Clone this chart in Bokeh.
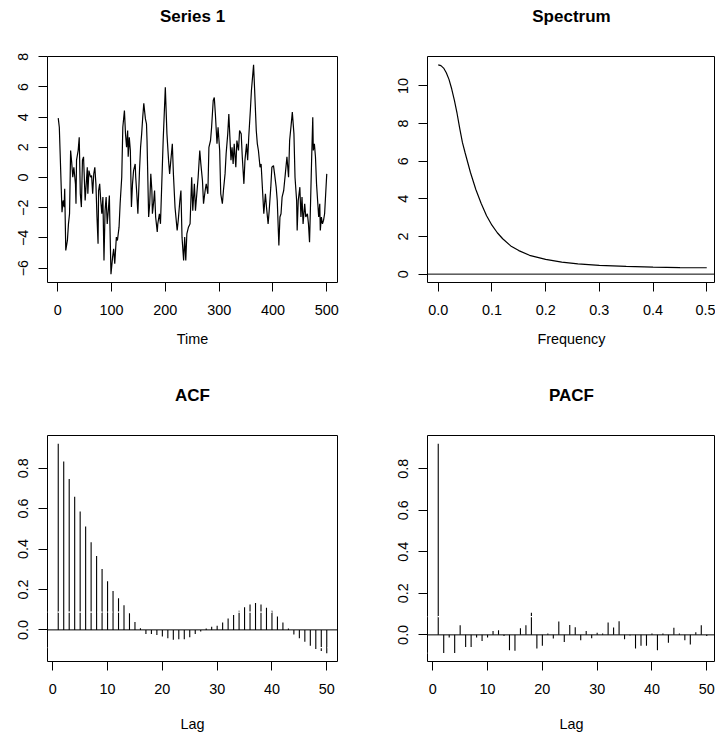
from bokeh.plotting import figure
from bokeh.layouts import column, row
from bokeh.models import FixedTicker, Span, LinearAxis
from bokeh.embed import file_html
from bokeh.resources import INLINE

# ---------------- data ----------------
ts_time = [1, 3, 8, 10, 12, 13, 15, 18, 20, 22, 24, 26, 28, 30, 33, 34, 35, 38, 40, 42,
           44, 46, 48, 51, 53, 55, 56, 58, 61, 63, 65, 67, 69, 71, 73, 75, 76, 78, 80, 82,
           84, 86, 88, 90, 92, 94, 96, 97, 99, 102, 104, 106, 109, 111, 114, 116, 119, 121, 124, 126,
           128, 130, 131, 133, 135, 137, 139, 141, 144, 145, 147, 149, 152, 154, 156, 158, 160, 163, 165, 166,
           169, 171, 173, 175, 176, 178, 180, 182, 185, 186, 189, 191, 196, 200, 203, 206, 208, 213, 215, 218,
           222, 224, 227, 229, 231, 234, 236, 238, 240, 243, 246, 249, 251, 254, 256, 259, 261, 264, 266, 269,
           271, 274, 276, 279, 281, 284, 286, 289, 291, 293, 296, 298, 301, 303, 306, 308, 311, 313, 316, 318,
           320, 322, 324, 326, 328, 331, 333, 336, 338, 341, 343, 346, 348, 351, 353, 355, 358, 360, 364, 366,
           369, 371, 373, 376, 378, 381, 383, 386, 388, 391, 393, 396, 398, 401, 403, 406, 408, 411, 413, 415,
           417, 420, 423, 426, 429, 431, 434, 436, 439, 441, 444, 445, 447, 450, 452, 454, 456, 459, 461, 464,
           466, 468, 470, 472, 474, 475, 477, 479, 481, 483, 485, 487, 488, 490, 492, 494, 496, 498, 500]
ts_value = [3.93, 3.33, -2.3, -1.52, -1.96, -0.75, -4.83, -4.17, -3.07, -2.4, 1.79, 1.0, 0.02, 0.68, -0.42, -1.74, 1.15, 1.79, 2.67, -1.08,
            -1.96, 1.15, 1.37, -1.52, -0.42, 0.68, -1.08, 0.46, 0.02, 0.13, -1.08, 0.24, 0.68, -0.42, -2.62, -4.39, -0.86, -0.42, -1.52, -2.4,
            -1.3, -5.5, -2.2, -1.3, -3.07, -2.2, -1.2, -3.07, -6.4, -5.27, -4.72, -5.71, -3.95, -4.17, -3.29, -1.74, 0.02, 3.33, 4.44, 2.89,
            2.0, 3.11, 1.37, 2.67, 1.79, -1.96, -0.42, 0.46, 0.9, 0.02, -1.08, -2.4, 0.46, 2.0, 2.89, 3.99, 4.91, 3.88, 3.55, 2.45,
            -2.62, -1.74, 0.24, -0.86, -2.4, -1.74, -0.86, -2.62, -3.6, -3.07, -2.4, -3.07, 2.45, 5.98, 2.89, 1.15, 0.24, 2.23, 0.24, -1.96,
            -3.51, -2.84, -1.52, -0.86, -3.95, -5.5, -3.95, -5.5, -3.73, -3.29, -3.07, 0.02, -2.2, -0.42, -2.2, -0.86, 0.02, 1.79, 0.9, -0.2,
            -1.74, -0.86, -0.42, -1.08, 2.0, 2.45, 3.33, 5.1, 5.3, 4.2, 2.23, 3.33, 1.79, -1.08, -1.74, -0.86, 0.24, 1.57, 2.89, 4.2,
            2.67, 1.15, 2.0, 0.9, 2.23, 0.68, 2.45, 1.79, 3.11, 2.89, 1.37, -0.42, 1.15, 2.23, 1.15, 2.67, 4.44, 5.76, 7.46, 5.76,
            3.11, 2.23, 1.79, 0.68, 0.9, -1.08, -2.4, -1.08, -1.96, -3.07, -2.2, -0.64, 0.68, 0.79, 0.24, -0.64, -1.52, -4.5, -2.62, -2.4,
            -1.3, -0.86, 0.24, 1.37, 0.02, 2.45, 3.55, 4.33, 2.89, 0.02, -1.52, -3.51, -1.52, -0.64, -2.62, -1.3, -3.07, -1.74, -2.62, -2.4,
            -3.07, -4.28, -1.52, 1.37, 3.99, 1.79, 2.23, 1.37, -0.42, -1.52, -2.62, -1.74, -3.51, -2.62, -3.07, -2.84, -2.4, -1.08, 0.24]

spec_freq = [0.0, 0.005, 0.01, 0.015, 0.02, 0.025, 0.03, 0.035, 0.04, 0.045, 0.05, 0.06, 0.07, 0.08, 0.09,
             0.1, 0.11, 0.12, 0.135, 0.15, 0.17, 0.2, 0.23, 0.26, 0.3, 0.35, 0.4, 0.45, 0.5]
spec_value = [11.12, 11.08, 10.95, 10.7, 10.35, 9.85, 9.25, 8.55, 7.75, 7.0, 6.45, 5.4, 4.5, 3.75, 3.1,
              2.6, 2.2, 1.88, 1.5, 1.25, 1.0, 0.78, 0.64, 0.55, 0.47, 0.41, 0.37, 0.35, 0.34]

lags = list(range(1, 51))
acf_value = [0.92, 0.833, 0.746, 0.659, 0.585, 0.511, 0.434, 0.365, 0.301, 0.241,
             0.192, 0.156, 0.122, 0.082, 0.039, 0.008, -0.02, -0.02, -0.025, -0.033,
             -0.041, -0.049, -0.046, -0.046, -0.036, -0.02, -0.008, 0.007, 0.015, 0.021,
             0.036, 0.056, 0.074, 0.095, 0.112, 0.126, 0.133, 0.125, 0.11, 0.094,
             0.066, 0.036, 0.007, -0.023, -0.041, -0.059, -0.079, -0.095, -0.105, -0.115]
pacf_value = [0.92, -0.087, -0.013, -0.087, 0.046, -0.058, -0.058, -0.013, -0.029, -0.013,
              0.019, 0.022, -0.006, -0.074, -0.077, 0.032, 0.046, 0.106, -0.066, -0.053,
              0.006, -0.018, 0.064, -0.034, 0.048, 0.037, -0.026, 0.018, -0.016, 0.01,
              0.006, 0.059, 0.035, 0.066, -0.021, -0.003, -0.066, -0.053, -0.053, 0.006,
              -0.074, 0.006, -0.038, 0.034, 0.006, -0.026, -0.046, 0.013, 0.046, -0.006]
ci_bound = 0.088

ts_xticks = [0, 100, 200, 300, 400, 500]
ts_yticks = [-6, -4, -2, 0, 2, 4, 6, 8]
spec_xticks = [0.0, 0.1, 0.2, 0.3, 0.4, 0.5]
spec_xlabels = ["0.0", "0.1", "0.2", "0.3", "0.4", "0.5"]
spec_yticks = [0, 2, 4, 6, 8, 10]
lag_ticks = [0, 10, 20, 30, 40, 50]
cor_yticks = [0.0, 0.2, 0.4, 0.6, 0.8]
cor_ylabels = ["0.0", "0.2", "0.4", "0.6", "0.8"]

# ---------------- layout constants ----------------
FONT = "Liberation Sans"
TICK_FS = "14.4px"
FW, FH = 290, 226
LEFT_L, LEFT_R = 47, 50
RIGHT_L = 40
RIGHT_FW = 288
TOP_T, TOP_B = 56, 75
BOT_T, BOT_B = 78, 75


def r_range(lo, hi):
    d = (hi - lo) * 0.04
    return lo - d, hi + d


def make_fig(xr_full, yr, right_col, top_row, title, xlab, xticks, yticks, xlabels=None, ylabels=None):
    x0, x1 = xr_full
    xs = (x1 - x0) / FW
    fw = RIGHT_FW if right_col else FW
    xr = (x0, x0 + fw * xs)
    ml = RIGHT_L if right_col else LEFT_L
    mr = 0 if right_col else LEFT_R
    mt = TOP_T if top_row else BOT_T
    mb = TOP_B if top_row else BOT_B
    p = figure(width=ml + fw + mr, height=mt + FH + mb, x_range=xr, y_range=yr,
               output_backend="svg", toolbar_location=None,
               x_axis_location=None, y_axis_location=None,
               min_border_left=ml, min_border_right=mr,
               min_border_top=mt, min_border_bottom=mb)
    p.grid.visible = False
    p.outline_line_color = "black"
    p.outline_line_width = 1
    p.background_fill_color = "white"
    p.border_fill_color = "white"
    bx = LinearAxis(ticker=FixedTicker(ticks=xticks))
    ly = LinearAxis(ticker=FixedTicker(ticks=yticks))
    for ax in (bx, ly):
        ax.axis_line_color = None
        ax.minor_tick_line_color = None
        ax.major_tick_in = 0
        ax.major_tick_out = 9
        ax.major_tick_line_color = "black"
        ax.major_tick_line_width = 1
        ax.major_label_text_font = FONT
        ax.major_label_text_font_size = TICK_FS
        ax.major_label_text_color = "black"
    if xlabels is not None:
        bx.major_label_overrides = dict(zip(xticks, xlabels))
    if ylabels is not None:
        ly.major_label_overrides = dict(zip(yticks, ylabels))
    bx.major_label_standoff = 13
    ly.major_label_standoff = 10
    ly.major_label_orientation = "vertical"
    bx.axis_label = xlab
    bx.axis_label_text_font = FONT
    bx.axis_label_text_font_size = TICK_FS
    bx.axis_label_text_font_style = "normal"
    bx.axis_label_text_color = "black"
    bx.axis_label_standoff = 13 if top_row else 19
    p.add_layout(bx, "below")
    p.add_layout(ly, "left")
    # title drawn as the label of a tick-less axis above the frame
    tax = LinearAxis(ticker=FixedTicker(ticks=[]), axis_label=title,
                     axis_line_color=None, major_tick_line_color=None,
                     minor_tick_line_color=None, major_tick_out=0, major_tick_in=0,
                     major_label_standoff=0,
                     axis_label_text_font=FONT, axis_label_text_font_size="17px",
                     axis_label_text_font_style="bold", axis_label_text_color="black",
                     axis_label_standoff=31)
    p.add_layout(tax, "above")
    return p


def minus(v):
    return str(v).replace("-", "\u2212")


# Series 1
p1 = make_fig(r_range(min(ts_time), max(ts_time)), r_range(min(ts_value), max(ts_value)),
              False, True, "Series 1", "Time", ts_xticks, ts_yticks,
              ylabels=[minus(t) for t in ts_yticks])
p1.line(ts_time, ts_value, line_color="black", line_width=1.2)

# Spectrum
p2 = make_fig(r_range(min(spec_freq), max(spec_freq)), r_range(0, max(spec_value)),
              True, True, "Spectrum", "Frequency", spec_xticks, spec_yticks, xlabels=spec_xlabels)
p2.line(spec_freq, spec_value, line_color="black", line_width=1.2)
p2.add_layout(Span(location=0, dimension="width", line_color="black", line_width=1))

# ACF
acf_lo = min(min(acf_value), -ci_bound)
acf_hi = max(max(acf_value), ci_bound)
p3 = make_fig(r_range(min(lags), max(lags)), r_range(acf_lo, acf_hi), False, False, "ACF", "Lag",
              lag_ticks, cor_yticks, ylabels=cor_ylabels)
p3.segment(x0=lags, y0=[0] * len(lags), x1=lags, y1=acf_value, line_color="black", line_width=1.1)
p3.add_layout(Span(location=0, dimension="width", line_color="black", line_width=1))
for c in (ci_bound, -ci_bound):
    p3.add_layout(Span(location=c, dimension="width", line_color="white", line_width=1.2, line_dash="5 5"))

# PACF
pacf_lo = min(min(pacf_value), -ci_bound)
pacf_hi = max(max(pacf_value), ci_bound)
p4 = make_fig(r_range(min(lags), max(lags)), r_range(pacf_lo, pacf_hi), True, False, "PACF", "Lag",
              lag_ticks, cor_yticks, ylabels=cor_ylabels)
p4.segment(x0=lags, y0=[0] * len(lags), x1=lags, y1=pacf_value, line_color="black", line_width=1.1)
p4.add_layout(Span(location=0, dimension="width", line_color="black", line_width=1))
for c in (ci_bound, -ci_bound):
    p4.add_layout(Span(location=c, dimension="width", line_color="white", line_width=1.2, line_dash="5 5"))

layout = column(row(p1, p2), row(p3, p4))
open("out.html", "w").write(file_html(layout, INLINE))
